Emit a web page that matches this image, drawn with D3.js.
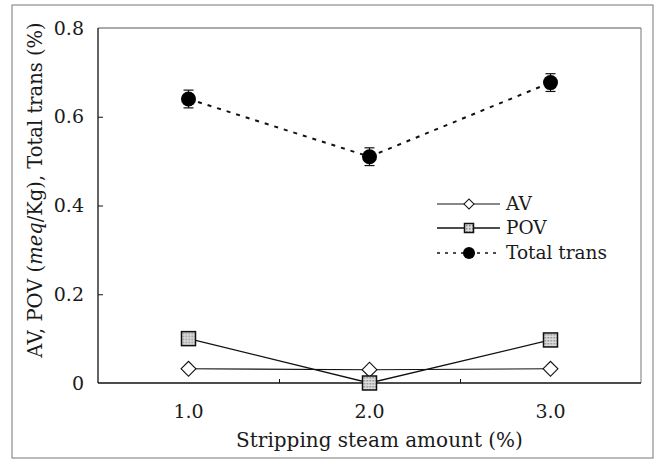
<!DOCTYPE html>
<html>
<head>
<meta charset="utf-8">
<script src="https://cdn.jsdelivr.net/npm/d3@7"></script>
<style>
  body { margin: 0; background: #fff; }
  text { font-family: "DejaVu Serif", "Liberation Serif", serif; fill: #1a1a1a; }
</style>
</head>
<body>
<svg id="chart" width="665" height="463"></svg>
<script>
const steam = [1.0, 2.0, 3.0];
const av = [0.032, 0.030, 0.032];
const pov = [0.100, 0.000, 0.097];
const totalTrans = [0.640, 0.510, 0.677];
const totalErr = [0.02, 0.02, 0.02];
const yTicks = [0, 0.2, 0.4, 0.6, 0.8];
const yTickLabels = ["0", "0.2", "0.4", "0.6", "0.8"];
const xTickLabels = ["1.0", "2.0", "3.0"];

const svg = d3.select('#chart');
const margin = { top: 28, right: 24, bottom: 80, left: 98 };
const width = 665 - margin.left - margin.right;
const height = 463 - margin.top - margin.bottom;

// outer frame of the figure
svg.append('rect')
  .attr('x', 12).attr('y', 5)
  .attr('width', 641).attr('height', 453)
  .attr('fill', 'none')
  .attr('stroke', '#777')
  .attr('stroke-width', 1);

const g = svg.append('g')
  .attr('transform', `translate(${margin.left},${margin.top})`);

const x = d3.scaleLinear().domain([0.5, 3.5]).range([0, width]);
const y = d3.scaleLinear().domain([0, 0.8]).range([height, 0]);

// top and right frame
g.append('line')
  .attr('x1', 0).attr('x2', width).attr('y1', 0).attr('y2', 0)
  .attr('stroke', '#555').attr('stroke-width', 1);
g.append('line')
  .attr('x1', width).attr('x2', width).attr('y1', 0).attr('y2', height)
  .attr('stroke', '#777').attr('stroke-width', 1);

// y axis, ticks pointing inward
const yAxis = g.append('g')
  .call(d3.axisRight(y).tickValues(yTicks.slice(1, -1)).tickSize(5).tickFormat(''));
yAxis.select('.domain').remove();
yAxis.selectAll('line').attr('stroke', '#111');
g.append('line')
  .attr('x1', 0).attr('x2', 0).attr('y1', 0).attr('y2', height)
  .attr('stroke', '#111').attr('stroke-width', 1.3);

g.selectAll('.ylab')
  .data(yTicks)
  .join('text')
  .attr('class', 'ylab')
  .attr('x', -14)
  .attr('y', d => y(d))
  .attr('dy', '0.35em')
  .attr('text-anchor', 'end')
  .style('font-size', '19px')
  .text((d, i) => yTickLabels[i]);

// x axis, small inward ticks between categories
const xAxis = g.append('g')
  .attr('transform', `translate(0,${height})`)
  .call(d3.axisTop(x).tickValues([1.5, 2.5]).tickSize(4).tickFormat(''));
xAxis.select('.domain').remove();
xAxis.selectAll('line').attr('stroke', '#111');
g.append('line')
  .attr('x1', 0).attr('x2', width).attr('y1', height).attr('y2', height)
  .attr('stroke', '#111').attr('stroke-width', 1.3);

g.selectAll('.xlab')
  .data(steam)
  .join('text')
  .attr('class', 'xlab')
  .attr('x', d => x(d))
  .attr('y', height + 35)
  .attr('text-anchor', 'middle')
  .style('font-size', '19px')
  .text((d, i) => xTickLabels[i]);

// axis titles
svg.append('text')
  .attr('x', margin.left + x(2.0) + 10)
  .attr('y', 447)
  .attr('text-anchor', 'middle')
  .style('font-size', '20px')
  .text('Stripping steam amount (%)');

const yTitle = svg.append('text')
  .attr('transform', `translate(42,${190}) rotate(-90)`)
  .attr('text-anchor', 'middle')
  .style('font-size', '19.5px');
yTitle.append('tspan').text('AV, POV (');
yTitle.append('tspan').style('font-style', 'italic').text('meq');
yTitle.append('tspan').text('/Kg), Total trans (%)');

// pattern for POV squares
const defs = svg.append('defs');
const pat = defs.append('pattern')
  .attr('id', 'grid')
  .attr('width', 3).attr('height', 3)
  .attr('patternUnits', 'userSpaceOnUse');
pat.append('rect').attr('width', 3).attr('height', 3).attr('fill', '#ddd');
pat.append('rect').attr('width', 1.5).attr('height', 1.5).attr('fill', '#888');

const line = d3.line()
  .x(d => x(d[0]))
  .y(d => y(d[1]));

const avPts = steam.map((s, i) => [s, av[i]]);
const povPts = steam.map((s, i) => [s, pov[i]]);
const totPts = steam.map((s, i) => [s, totalTrans[i]]);

g.append('path').datum(avPts)
  .attr('fill', 'none').attr('stroke', '#111').attr('stroke-width', 1.1)
  .attr('d', line);
g.append('path').datum(povPts)
  .attr('fill', 'none').attr('stroke', '#111').attr('stroke-width', 1.3)
  .attr('d', line);
g.append('path').datum(totPts)
  .attr('fill', 'none').attr('stroke', '#111').attr('stroke-width', 2)
  .attr('stroke-dasharray', '4,6')
  .attr('d', line);

const diamond = d3.symbol().type(d3.symbolSquare).size(110);

function drawAV(sel) {
  sel.append('path')
    .attr('d', diamond())
    .attr('transform', 'rotate(45)')
    .attr('fill', '#fff')
    .attr('stroke', '#111')
    .attr('stroke-width', 1.1);
}
function drawPOV(sel, s) {
  sel.append('rect')
    .attr('x', -s / 2).attr('y', -s / 2)
    .attr('width', s).attr('height', s)
    .attr('fill', 'url(#grid)')
    .attr('stroke', '#111')
    .attr('stroke-width', 1.5);
}

g.selectAll('.av')
  .data(avPts)
  .join('g')
  .attr('class', 'av')
  .attr('transform', d => `translate(${x(d[0])},${y(d[1])})`)
  .call(drawAV);

g.selectAll('.pov')
  .data(povPts)
  .join('g')
  .attr('class', 'pov')
  .attr('transform', d => `translate(${x(d[0])},${y(d[1])})`)
  .each(function () { drawPOV(d3.select(this), 14); });

// error bars for total trans
const eb = g.selectAll('.eb')
  .data(steam.map((s, i) => ({ s, v: totalTrans[i], e: totalErr[i] })))
  .join('g')
  .attr('class', 'eb');
eb.append('line')
  .attr('x1', d => x(d.s)).attr('x2', d => x(d.s))
  .attr('y1', d => y(d.v - d.e)).attr('y2', d => y(d.v + d.e))
  .attr('stroke', '#111').attr('stroke-width', 1.2);
eb.append('line')
  .attr('x1', d => x(d.s) - 5).attr('x2', d => x(d.s) + 5)
  .attr('y1', d => y(d.v - d.e)).attr('y2', d => y(d.v - d.e))
  .attr('stroke', '#111').attr('stroke-width', 1.2);
eb.append('line')
  .attr('x1', d => x(d.s) - 5).attr('x2', d => x(d.s) + 5)
  .attr('y1', d => y(d.v + d.e)).attr('y2', d => y(d.v + d.e))
  .attr('stroke', '#111').attr('stroke-width', 1.2);

g.selectAll('.tot')
  .data(totPts)
  .join('circle')
  .attr('class', 'tot')
  .attr('cx', d => x(d[0]))
  .attr('cy', d => y(d[1]))
  .attr('r', 7.5)
  .attr('fill', '#000');

// legend
const legend = svg.append('g').attr('transform', 'translate(437,0)');
const rows = [
  { name: 'AV', y: 204 },
  { name: 'POV', y: 228 },
  { name: 'Total trans', y: 253 }
];
rows.forEach((r, i) => {
  const row = legend.append('g').attr('transform', `translate(0,${r.y})`);
  const ln = row.append('line')
    .attr('x1', 0).attr('x2', 63).attr('y1', 0).attr('y2', 0)
    .attr('stroke', '#111');
  const mk = row.append('g').attr('transform', 'translate(32,0)');
  if (i === 0) {
    ln.attr('stroke-width', 1.1);
    mk.append('path')
      .attr('d', d3.symbol().type(d3.symbolSquare).size(50)())
      .attr('transform', 'rotate(45)')
      .attr('fill', '#fff').attr('stroke', '#111').attr('stroke-width', 1);
  } else if (i === 1) {
    ln.attr('stroke-width', 1.3);
    drawPOV(mk, 9);
  } else {
    ln.attr('stroke-width', 1.5).attr('stroke-dasharray', '3,5');
    mk.append('circle').attr('r', 6).attr('fill', '#000');
  }
  row.append('text')
    .attr('x', 69)
    .attr('dy', '0.35em')
    .style('font-size', '18.5px')
    .text(r.name);
});
</script>
</body>
</html>
